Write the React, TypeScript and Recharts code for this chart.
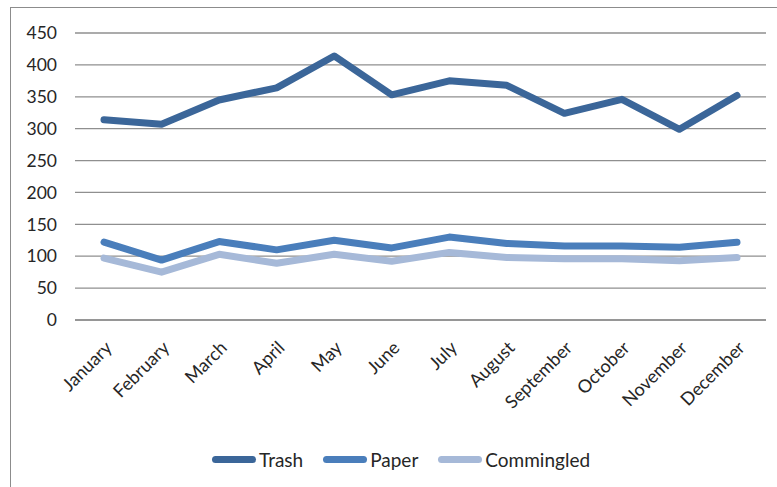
import { CartesianGrid, Line, LineChart, XAxis, YAxis } from 'recharts'

const months = [
  'January', 'February', 'March', 'April', 'May', 'June',
  'July', 'August', 'September', 'October', 'November', 'December',
]
const trash = [314, 307, 345, 364, 414, 353, 375, 368, 324, 346, 299, 352]
const paper = [122, 94, 123, 110, 125, 113, 130, 120, 116, 116, 114, 122]
const commingled = [97, 75, 103, 89, 103, 92, 106, 98, 96, 96, 93, 98]
const yTicks = [0, 50, 100, 150, 200, 250, 300, 350, 400, 450]

const series = [
  { key: 'Trash', color: '#3b6699' },
  { key: 'Paper', color: '#4a7ebb' },
  { key: 'Commingled', color: '#a6b9d8' },
]

const data = months.map((m, i) => ({
  month: m,
  Trash: trash[i],
  Paper: paper[i],
  Commingled: commingled[i],
}))

const font = 'Lato, "Open Sans", sans-serif'

function MonthTick(props: any) {
  const { x, payload } = props
  return (
    <g transform={`translate(${x + 9},349)`}>
      <text
        textAnchor='end'
        transform='rotate(-45)'
        fontSize={18}
        fontFamily={font}
        fill='#262626'
      >
        {payload.value}
      </text>
    </g>
  )
}

// legend drawn as plain html so it doesn't eat plot height
function ChartLegend() {
  return (
    <div
      style={{
        position: 'absolute',
        left: 212,
        top: 448,
        display: 'flex',
        alignItems: 'center',
        fontFamily: font,
        fontSize: 19,
        color: '#262626',
      }}
    >
      {series.map((s) => (
        <div key={s.key} style={{ display: 'flex', alignItems: 'center', marginRight: 20 }}>
          <span
            style={{
              display: 'inline-block',
              width: 44,
              height: 7,
              borderRadius: 4,
              background: s.color,
              marginRight: 3,
            }}
          />
          <span>{s.key}</span>
        </div>
      ))}
    </div>
  )
}

export default function App() {
  return (
    <div style={{ position: 'fixed', left: 0, top: 0, width: 777, height: 487, background: '#fff', overflow: 'hidden' }}>
      <div
        style={{
          position: 'absolute',
          left: 10,
          top: 7,
          width: 800,
          height: 500,
          borderTop: '1.5px solid #8c8c8c',
          borderLeft: '1.5px solid #8c8c8c',
        }}
      />
      <LineChart
        width={777}
        height={487}
        data={data}
        margin={{ top: 33, right: 11, left: 0, bottom: 0 }}
        style={{ position: 'absolute', left: 0, top: 0 }}
      >
        <CartesianGrid vertical={false} stroke='#8f8f8f' strokeWidth={1.3} />
        <XAxis
          dataKey='month'
          interval={0}
          padding={{ left: 29, right: 29 }}
          axisLine={{ stroke: '#8f8f8f', strokeWidth: 1.3 }}
          tickLine={false}
          tickSize={0}
          tick={<MonthTick />}
          height={167}
        />
        <YAxis
          domain={[0, 450]}
          ticks={yTicks}
          interval={0}
          width={75}
          axisLine={false}
          tickLine={false}
          tickSize={0}
          tickMargin={18}
          tick={{ fontSize: 17.5, fontFamily: font, fill: '#262626' }}
        />
        {series.map((s) => (
          <Line
            key={s.key}
            type='linear'
            dataKey={s.key}
            stroke={s.color}
            strokeWidth={7}
            strokeLinecap='round'
            strokeLinejoin='round'
            dot={false}
            activeDot={false}
            isAnimationActive={false}
          />
        ))}
      </LineChart>
      <ChartLegend />
    </div>
  )
}
